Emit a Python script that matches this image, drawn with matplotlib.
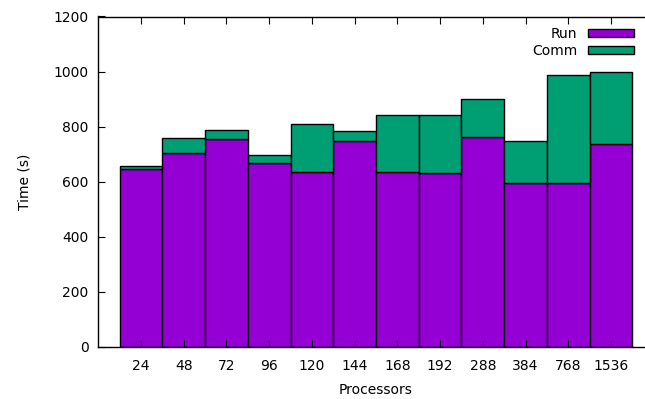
import numpy as np
import matplotlib.pyplot as plt

# Run / communication time per processor count
processors = ["24", "48", "72", "96", "120", "144", "168", "192", "288", "384", "768", "1536"]
run_time = [647, 704, 754, 667, 634, 747, 635, 632, 764, 595, 594, 737]
comm_time = [9, 56, 35, 31, 174, 37, 208, 209, 135, 153, 392, 260]

RUN_COLOR = "#9400d3"
COMM_COLOR = "#009e73"

plt.rcParams["font.family"] = "DejaVu Sans"
plt.rcParams["font.size"] = 10

fig = plt.figure(figsize=(6.45, 3.99), dpi=100)
W, H = 645, 399
# axes box in pixels: left 98, bottom 347, top 16.5; right edge runs past the figure
left, right, top, bottom = 98.3, 653.7, 16.5, 347.0
ax = fig.add_axes([left / W, (H - bottom) / H, (right - left) / W, (bottom - top) / H])

x = np.arange(len(processors))
ax.bar(x, run_time, width=1.0, color=RUN_COLOR, edgecolor="black", linewidth=1.0, label="Run")
ax.bar(x, comm_time, width=1.0, bottom=run_time, color=COMM_COLOR, edgecolor="black",
       linewidth=1.0, label="Comm")

ax.set_xlim(-1, 12)
ax.set_ylim(0, 1200)
ax.set_xticks(x)
ax.set_xticklabels(processors)
ax.set_yticks(np.arange(0, 1201, 200))
ax.tick_params(direction="in", length=5, width=0.8, top=True, right=True, pad=7)
ax.tick_params(axis="x", pad=9)
for s in ax.spines.values():
    s.set_linewidth(1.0)

ax.set_xlabel("Processors", labelpad=7)
ax.set_ylabel("Time (s)", labelpad=16)

ax.legend(loc="upper right", bbox_to_anchor=(641 / W, (H - 20) / H),
          bbox_transform=fig.transFigure, frameon=False, markerfirst=False,
          handlelength=3.3, handleheight=0.5, labelspacing=0.22, borderpad=0,
          handletextpad=0.8)

fig.savefig("out.png", dpi=100)
